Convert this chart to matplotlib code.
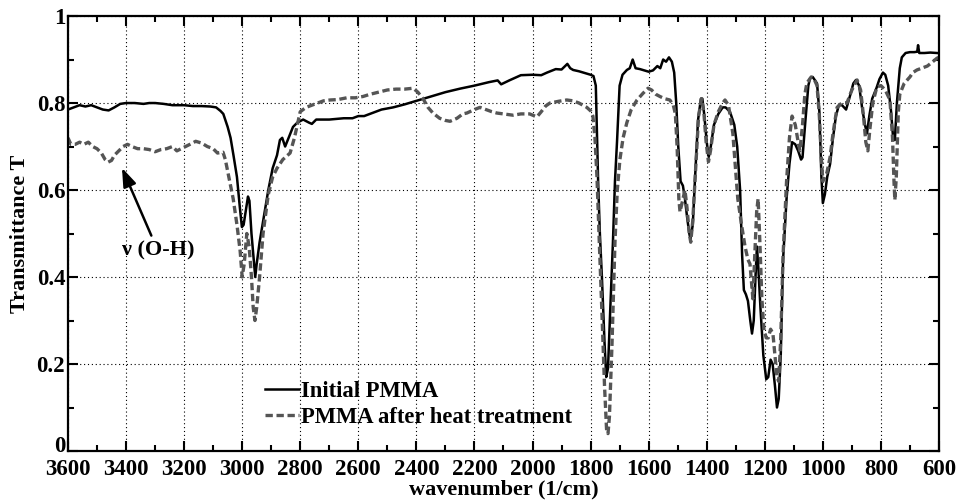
import matplotlib
matplotlib.use("Agg")
import matplotlib.pyplot as plt
import matplotlib.transforms as mtransforms
from matplotlib.ticker import MultipleLocator, FormatStrFormatter

# FTIR spectra (wavenumber in 1/cm, transmittance)
wn_initial = [3600, 3580, 3560, 3540, 3520, 3500, 3480, 3460, 3440, 3420, 3400, 3370, 3340, 3320,
              3300, 3270, 3240, 3200, 3170, 3140, 3110, 3090, 3075, 3065, 3050, 3040, 3030, 3018,
              3008, 3001, 2995, 2988, 2980, 2975, 2968, 2960, 2955, 2950, 2940, 2925, 2910, 2895,
              2880, 2870, 2862, 2852, 2840, 2825, 2810, 2790, 2770, 2760, 2745, 2700, 2650, 2620,
              2600, 2580, 2560, 2520, 2480, 2440, 2400, 2350, 2300, 2250, 2200, 2150, 2120, 2108,
              2080, 2040, 2000, 1970, 1950, 1920, 1900, 1880, 1870, 1860, 1840, 1815, 1800, 1790,
              1782, 1774, 1768, 1761, 1752, 1746, 1740, 1732, 1723, 1716, 1709, 1700, 1690, 1675,
              1665, 1655, 1645, 1630, 1615, 1600, 1585, 1570, 1560, 1550, 1540, 1530, 1520, 1512,
              1505, 1498, 1490, 1482, 1475, 1468, 1460, 1456, 1448, 1440, 1430, 1420, 1415, 1408,
              1400, 1393, 1386, 1375, 1360, 1345, 1335, 1320, 1305, 1295, 1285, 1278, 1272, 1265,
              1258, 1250, 1244, 1238, 1232, 1227, 1222, 1215, 1205, 1195, 1188, 1180, 1173, 1165,
              1158, 1152, 1145, 1137, 1125, 1115, 1106, 1095, 1085, 1075, 1070, 1060, 1050, 1044,
              1035, 1020, 1012, 1005, 1000, 993, 985, 975, 965, 955, 945, 934, 920, 905, 895, 886,
              875, 865, 855, 848, 840, 830, 815, 805, 793, 785, 775, 765, 758, 752, 745, 735, 728,
              715, 700, 685, 675, 672, 668, 650, 630, 607]
t_initial = [0.785, 0.79, 0.795, 0.792, 0.795, 0.79, 0.785, 0.783, 0.79, 0.798, 0.80, 0.80, 0.798, 0.80,
             0.80, 0.798, 0.795, 0.795, 0.793, 0.793, 0.792, 0.79, 0.782, 0.775, 0.745, 0.72, 0.68, 0.63,
             0.56, 0.515, 0.52, 0.55, 0.585, 0.575, 0.50, 0.44, 0.40, 0.43, 0.48, 0.54, 0.60, 0.65,
             0.68, 0.715, 0.72, 0.70, 0.72, 0.745, 0.755, 0.762, 0.755, 0.752, 0.762, 0.762, 0.765, 0.765,
             0.77, 0.77, 0.775, 0.785, 0.79, 0.797, 0.805, 0.815, 0.825, 0.833, 0.84, 0.848, 0.852, 0.843,
             0.852, 0.864, 0.865, 0.864, 0.87, 0.878, 0.877, 0.89, 0.88, 0.876, 0.873, 0.868, 0.865, 0.862,
             0.84, 0.62, 0.50, 0.40, 0.25, 0.17, 0.19, 0.33, 0.48, 0.62, 0.71, 0.84, 0.865, 0.876,
             0.88, 0.90, 0.88, 0.878, 0.875, 0.872, 0.875, 0.885, 0.88, 0.90, 0.895, 0.905, 0.895, 0.87,
             0.80, 0.70, 0.62, 0.61, 0.58, 0.54, 0.50, 0.487, 0.52, 0.63, 0.76, 0.81, 0.81, 0.77,
             0.71, 0.676, 0.70, 0.75, 0.775, 0.79, 0.79, 0.78, 0.75, 0.70, 0.60, 0.45, 0.37, 0.36,
             0.345, 0.30, 0.27, 0.30, 0.40, 0.47, 0.42, 0.33, 0.22, 0.165, 0.17, 0.21, 0.20, 0.15,
             0.10, 0.12, 0.22, 0.44, 0.58, 0.66, 0.71, 0.705, 0.69, 0.67, 0.675, 0.76, 0.84, 0.857,
             0.86, 0.845, 0.78, 0.63, 0.57, 0.59, 0.63, 0.66, 0.72, 0.77, 0.795, 0.795, 0.785, 0.82, 0.845, 0.853,
             0.84, 0.79, 0.75, 0.73, 0.77, 0.81, 0.835, 0.855, 0.87, 0.865, 0.84, 0.78, 0.72, 0.715, 0.80, 0.88, 0.905,
             0.915, 0.917, 0.917, 0.918, 0.933, 0.915, 0.915, 0.916, 0.915]

wn_heat = [3600, 3590, 3575, 3560, 3545, 3530, 3515, 3500, 3485, 3472, 3462, 3450, 3440, 3425,
           3410, 3395, 3380, 3360, 3340, 3320, 3300, 3280, 3260, 3240, 3225, 3210, 3195, 3180,
           3160, 3140, 3120, 3100, 3085, 3066, 3058, 3052, 3040, 3031, 3018, 3007, 3000, 2993,
           2984, 2976, 2968, 2962, 2956, 2950, 2940, 2928, 2910, 2895, 2880, 2860, 2835, 2820,
           2810, 2800, 2780, 2760, 2740, 2720, 2697, 2670, 2640, 2610, 2584, 2560, 2530, 2500,
           2470, 2440, 2411, 2395, 2377, 2360, 2343, 2320, 2300, 2284, 2260, 2240, 2226, 2200,
           2181, 2160, 2140, 2123, 2100, 2067, 2040, 2010, 1985, 1970, 1955, 1940, 1910, 1882,
           1860, 1840, 1813, 1800, 1792, 1785, 1778, 1770, 1761, 1752, 1745, 1740, 1735, 1726,
           1716, 1708, 1699, 1688, 1675, 1660, 1640, 1620, 1602, 1590, 1575, 1561, 1545, 1527,
           1515, 1508, 1502, 1496, 1492, 1485, 1475, 1468, 1460, 1455, 1448, 1438, 1428, 1418,
           1410, 1402, 1394, 1387, 1375, 1360, 1345, 1337, 1325, 1310, 1300, 1293, 1280, 1268,
           1258, 1251, 1241, 1235, 1228, 1223, 1218, 1210, 1203, 1195, 1188, 1180, 1172, 1165,
           1158, 1152, 1145, 1137, 1125, 1115, 1106, 1095, 1085, 1079, 1070, 1062, 1055, 1040,
           1030, 1020, 1012, 1005, 1000, 993, 986, 975, 965, 951, 935, 917, 900, 882, 870, 860,
           852, 845, 838, 828, 814, 800, 785, 769, 760, 755, 752, 747, 740, 735, 720, 700, 690,
           676, 660, 640, 625, 607, 600]
t_heat = [0.72, 0.705, 0.705, 0.71, 0.705, 0.71, 0.70, 0.695, 0.685, 0.67, 0.664, 0.668, 0.68, 0.69,
          0.70, 0.705, 0.70, 0.695, 0.695, 0.693, 0.688, 0.693, 0.695, 0.70, 0.69, 0.695, 0.70, 0.705,
          0.712, 0.708, 0.70, 0.695, 0.685, 0.687, 0.67, 0.65, 0.61, 0.58, 0.52, 0.46, 0.40, 0.43,
          0.50, 0.47, 0.40, 0.33, 0.30, 0.33, 0.40, 0.50, 0.59, 0.63, 0.65, 0.67, 0.685, 0.72,
          0.75, 0.78, 0.79, 0.795, 0.80, 0.805, 0.807, 0.808, 0.812, 0.812, 0.815, 0.82, 0.825, 0.83,
          0.832, 0.832, 0.834, 0.825, 0.81, 0.79, 0.777, 0.765, 0.76, 0.758, 0.765, 0.775, 0.777, 0.785,
          0.79, 0.785, 0.78, 0.777, 0.775, 0.772, 0.775, 0.775, 0.768, 0.78, 0.793, 0.80, 0.804, 0.807,
          0.805, 0.80, 0.79, 0.782, 0.77, 0.72, 0.63, 0.48, 0.32, 0.15, 0.05, 0.04, 0.08, 0.25,
          0.48, 0.60, 0.67, 0.72, 0.755, 0.785, 0.807, 0.822, 0.834, 0.83, 0.82, 0.815, 0.81, 0.807,
          0.795, 0.775, 0.70, 0.58, 0.55, 0.57, 0.60, 0.56, 0.50, 0.48, 0.53, 0.65, 0.77, 0.81,
          0.78, 0.71, 0.665, 0.69, 0.75, 0.78, 0.80, 0.807, 0.795, 0.73, 0.64, 0.58, 0.52, 0.47,
          0.44, 0.43, 0.35, 0.44, 0.55, 0.58, 0.50, 0.35, 0.28, 0.26, 0.26, 0.28, 0.27, 0.22,
          0.17, 0.16, 0.26, 0.45, 0.62, 0.72, 0.77, 0.75, 0.71, 0.69, 0.75, 0.82, 0.846, 0.86,
          0.855, 0.84, 0.77, 0.67, 0.62, 0.63, 0.64, 0.676, 0.73, 0.79, 0.80, 0.80, 0.83, 0.853, 0.83, 0.77,
          0.71, 0.69, 0.74, 0.80, 0.837, 0.84, 0.83, 0.807, 0.72, 0.62, 0.577, 0.63, 0.78, 0.82, 0.845, 0.86, 0.87,
          0.876, 0.88, 0.885, 0.893, 0.903, 0.905]

plt.rcParams["font.family"] = ["Liberation Serif", "DejaVu Serif"]
plt.rcParams["font.weight"] = "bold"
plt.rcParams["font.size"] = 16

fig = plt.figure(figsize=(9.56, 5.01), dpi=100)
ax = fig.add_axes([0.0711, 0.0998, 0.9111, 0.8682])

ax.plot(wn_initial, t_initial, color="black", linewidth=1.8, label="Initial PMMA")
ax.plot(wn_heat, t_heat, color="#555555", linewidth=2.4, linestyle=(0, (2.2, 1.1)),
        label="PMMA after heat treatment")

ax.set_xlim(3600, 600)
ax.set_ylim(0, 1)
ax.xaxis.set_major_locator(MultipleLocator(200))
ax.xaxis.set_minor_locator(MultipleLocator(100))
ax.yaxis.set_major_locator(MultipleLocator(0.2))
ax.yaxis.set_minor_locator(MultipleLocator(0.1))
ax.yaxis.set_major_formatter(FormatStrFormatter("%g"))
ax.tick_params(which="both", direction="in", top=True, right=True, width=1.5, labelsize=16.5)
ax.tick_params(which="major", length=7)
ax.tick_params(which="minor", length=4)
ax.tick_params(axis="x", which="major", pad=5.5)
ax.tick_params(axis="y", which="major", pad=2)
for s in ax.spines.values():
    s.set_linewidth(1.6)
ax.grid(True, which="major", linestyle=(0, (1, 2.5)), color="black", linewidth=0.8)

ax.set_xlabel("wavenumber (1/cm)", fontweight="bold", labelpad=0)
ax.set_ylabel("Transmittance T", fontweight="bold", labelpad=5)

ax.annotate("ν (O-H)", xy=(3414, 0.651), xytext=(3290, 0.46), ha="center", va="center",
            fontweight="bold",
            arrowprops=dict(arrowstyle="-|>,head_length=0.7,head_width=0.25", color="black",
                            linewidth=1.8, shrinkA=2, shrinkB=0))

ax.legend(loc="upper left", bbox_to_anchor=(0.226, 0.162), frameon=False, borderpad=0,
          borderaxespad=0, handlelength=1.5, handletextpad=0.1, labelspacing=0.25,
          prop={"weight": "bold", "size": 16.3})

# lift the "0" label a little so it sits above "3600", as in the original
fig.canvas.draw()
for tick in ax.yaxis.get_major_ticks():
    if tick.label1.get_text() == "0":
        tick.label1.set_verticalalignment("baseline")
        tick.label1.set_transform(tick.label1.get_transform()
                                  + mtransforms.ScaledTranslation(0, -1 / 72, fig.dpi_scale_trans))

fig.savefig("out.png", dpi=100)
